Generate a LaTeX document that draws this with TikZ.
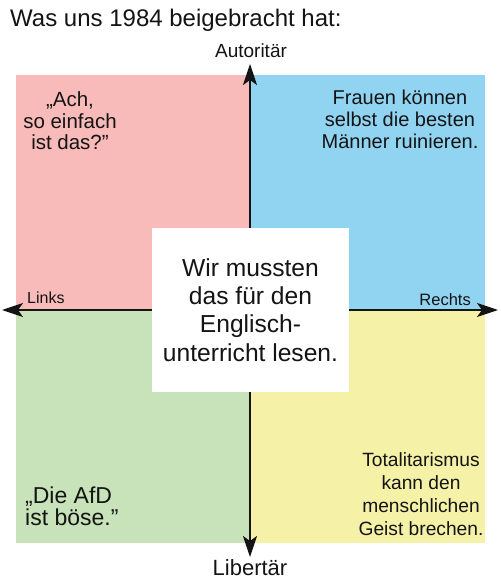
\documentclass[tikz,border=0pt]{standalone}
\usepackage{fontspec}
\setmainfont{Liberation Sans}
\usetikzlibrary{arrows.meta,positioning}
\definecolor{quadred}{HTML}{F9BABA}
\definecolor{quadblue}{HTML}{91D4F2}
\definecolor{quadgreen}{HTML}{C8E2BA}
\definecolor{quadyellow}{HTML}{F5F2A8}
\definecolor{inkdark}{HTML}{141414}
\tikzset{
  axis/.style={{Stealth[length=21pt,width=14pt,inset=5pt]}-{Stealth[length=21pt,width=14pt,inset=5pt]},
    line width=2pt, color=inkdark},
  axlabel/.style={inner sep=0pt, text=inkdark, anchor=base},
  quote/.style={inner sep=0pt, text=inkdark, align=center, anchor=base,
    font=\fontsize{20}{22.3}\selectfont},
  centerbox/.style={fill=white, minimum width=197pt, minimum height=164pt,
    inner sep=0pt, align=center, text=inkdark, font=\fontsize{24.6}{28.2}\selectfont},
  heading/.style={inner sep=0pt, anchor=base west, text=inkdark,
    font=\fontsize{24}{28}\selectfont},
}
\begin{document}
\begin{tikzpicture}[x=1pt,y=-1pt]
  \useasboundingbox (0,0) rectangle (500,585);
  \fill[white] (0,0) rectangle (500,585);
  \coordinate (mid) at (250,310);
  % the four fields
  \fill[quadred]    (16,75)   rectangle (mid);
  \fill[quadblue]   (485,75)  rectangle (mid);
  \fill[quadgreen]  (16,543)  rectangle (mid);
  \fill[quadyellow] (485,543) rectangle (mid);
  % axes
  \coordinate (west) at (2,310);
  \coordinate (east) at (498,310);
  \coordinate (north) at (250,64);
  \coordinate (south) at (250,557);
  \draw[axis] (west) -- (east);
  \draw[axis] (south) -- (north);
  \node[axlabel, font=\fontsize{19}{22}\selectfont] (autor) at (251,58) {Autoritär};
  \node[axlabel, font=\fontsize{22}{26}\selectfont] (liber) at (250,575) {Libertär};
  \node[axlabel, anchor=base west, font=\fontsize{16}{19}\selectfont] (links) at (27,303) {Links};
  \node[axlabel, anchor=base east, font=\fontsize{16.5}{19}\selectfont] (rechts) at (471,305) {Rechts};
  % quotes (anchored at the last line)
  \node[quote, font=\fontsize{20.5}{21.5}\selectfont] (ach) at (70,150) {„Ach,\\so einfach\\ist das?”};
  \node[quote, font=\fontsize{20}{22}\selectfont] (frauen) at (400,149) {Frauen können\\selbst die besten\\Männer ruinieren.};
  \node[quote, font=\fontsize{19.2}{22.7}\selectfont] (total) at (421,535)
    {Totalitarismus\\kann den\\menschlichen\\Geist brechen.};
  \node[quote, align=left, anchor=base west, font=\fontsize{23}{22}\selectfont] (afd) at (25,525)
    {„Die AfD\\ist böse.”};
  \node[centerbox] (schule) at (250.5,310)
    {Wir mussten\\das für den\\Englisch-\\unterricht lesen.};
  \node[heading] (titel) at (10,27) {Was uns 1984 beigebracht hat:};
\end{tikzpicture}
\end{document}
